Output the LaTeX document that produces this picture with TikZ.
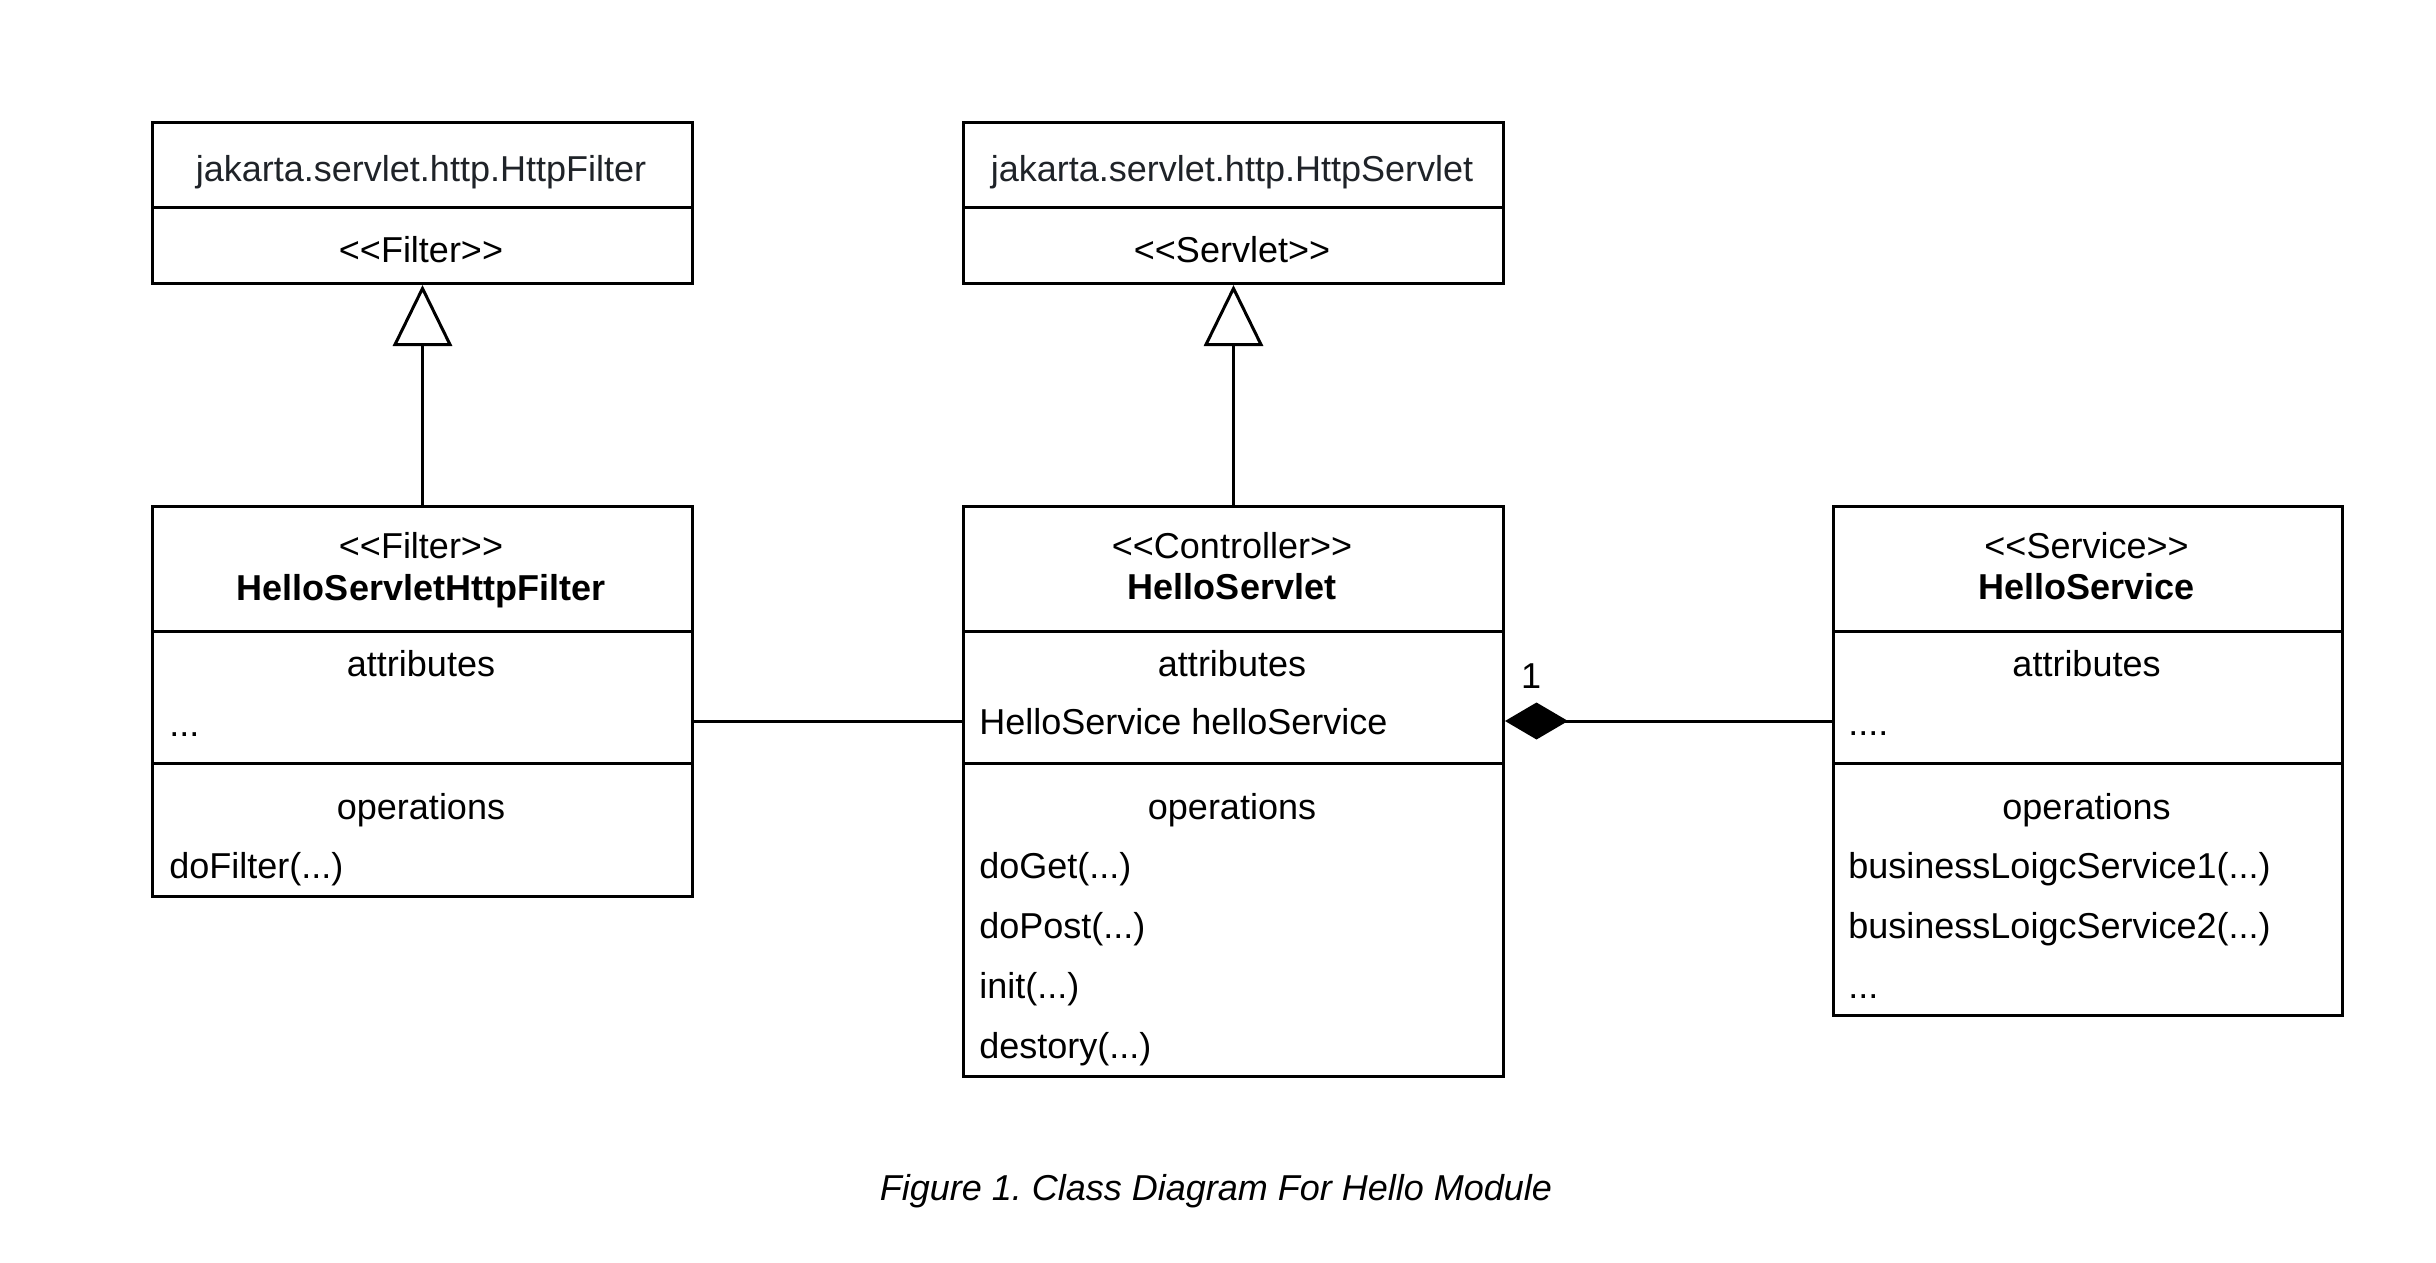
\documentclass[tikz,border=0pt]{standalone}
\usepackage{fontspec}
\setmainfont{Liberation Sans}
\usetikzlibrary{arrows.meta}
\definecolor{darkink}{RGB}{31,35,40}
\newcommand\umlopen{<\kern0pt<}
\newcommand\umlclose{>\kern0pt>}
\frenchspacing
\begin{document}
\begin{tikzpicture}[x=0.5pt,y=-0.5pt,
  font=\fontsize{18}{21.6}\selectfont,
  cls/.style={draw, line width=1.5pt, inner sep=0pt, anchor=north west},
  lbl/.style={inner sep=0pt, anchor=base},
  lbll/.style={inner sep=0pt, anchor=base west},
  conn/.style={line width=1.5pt},
  sep/.style={line width=1.5pt},
]
\useasboundingbox (0,0) rectangle (2436,1263);

% class boxes
\node[cls, minimum width=270pt, minimum height=80.5pt] (hf) at (151,121) {};
\node[cls, minimum width=270pt, minimum height=80.5pt] (hs) at (962,121) {};
\node[cls, minimum width=270pt, minimum height=195pt] (hfilter) at (151,505) {};
\node[cls, minimum width=270pt, minimum height=285pt] (ctrl) at (962,505) {};
\node[cls, minimum width=254.5pt, minimum height=254.5pt] (svc) at (1832,505) {};

% compartment dividers
\draw[sep] (hf.west |- 0,207) -- (hf.east |- 0,207);
\draw[sep] (hs.west |- 0,207) -- (hs.east |- 0,207);
\foreach \yy in {631,763}{
  \draw[sep] (hfilter.west |- 0,\yy) -- (hfilter.east |- 0,\yy);
  \draw[sep] (ctrl.west |- 0,\yy) -- (ctrl.east |- 0,\yy);
  \draw[sep] (svc.west |- 0,\yy) -- (svc.east |- 0,\yy);
}

% top boxes text
\node[lbl, text=darkink] (hfname) at (421,181) {jakarta.servlet.http.HttpFilter};
\node[lbl] (hfst) at (421,262) {\umlopen Filter\umlclose};
\node[lbl, text=darkink] (hsname) at (1232,181) {jakarta.servlet.http.HttpServlet};
\node[lbl] (hsst) at (1232,262) {\umlopen Servlet\umlclose};

% HelloServletHttpFilter
\node[lbl] (fst) at (421,558.5) {\umlopen Filter\umlclose};
\node[lbl] (fname) at (421,600.5) {\textbf{HelloServletHttpFilter}};
\node[lbl] (fattr) at (421,676) {attributes};
\node[lbll] (fa1) at (169,736.5) {...};
\node[lbl] (fops) at (421,819.5) {operations};
\node[lbll] (fo1) at (169,878.5) {doFilter(...)};

% HelloServlet
\node[lbl] (cst) at (1232,558.5) {\umlopen Controller\umlclose};
\node[lbl] (cname) at (1232,599.5) {\textbf{HelloServlet}};
\node[lbl] (cattr) at (1232,676) {attributes};
\node[lbll] (ca1) at (979,734.5) {HelloService helloService};
\node[lbl] (cops) at (1232,819) {operations};
\node[lbll] (co1) at (979,878.5) {doGet(...)};
\node[lbll] (co2) at (979,938.5) {doPost(...)};
\node[lbll] (co3) at (979,998.5) {init(...)};
\node[lbll] (co4) at (979,1058.5) {destory(...)};

% HelloService
\node[lbl] (sst) at (2086.5,558.5) {\umlopen Service\umlclose};
\node[lbl] (sname) at (2086.5,599.5) {\textbf{HelloService}};
\node[lbl] (sattr) at (2086.5,676) {attributes};
\node[lbll] (sa1) at (1848,735.5) {....};
\node[lbl] (sops) at (2086.5,819) {operations};
\node[lbll] (so1) at (1848,878.5) {businessLoigcService1(...)};
\node[lbll] (so2) at (1848,938.5) {businessLoigcService2(...)};
\node[lbll] (so3) at (1848,998.5) {...};

% generalizations
\draw[conn, -{Triangle[open, length=30.5pt, width=29.5pt]}] (hfilter.north) -- (hf.south);
\draw[conn, -{Triangle[open, length=30.5pt, width=29.5pt]}] (ctrl.north) -- (hs.south);

% association filter -- servlet
\draw[conn] (hfilter.east |- 0,721) -- (ctrl.west |- 0,721);

% composition servlet <>-- service
\draw[conn, {Diamond[length=31.5pt, width=18.5pt]}-] (ctrl.east |- 0,721) -- (svc.west |- 0,721);
\node[lbl] (mult) at (1531,688) {1};

% caption
\node[lbl] (cap) at (1216,1200) {\itshape Figure 1. Class Diagram For Hello Module};
\end{tikzpicture}
\end{document}
